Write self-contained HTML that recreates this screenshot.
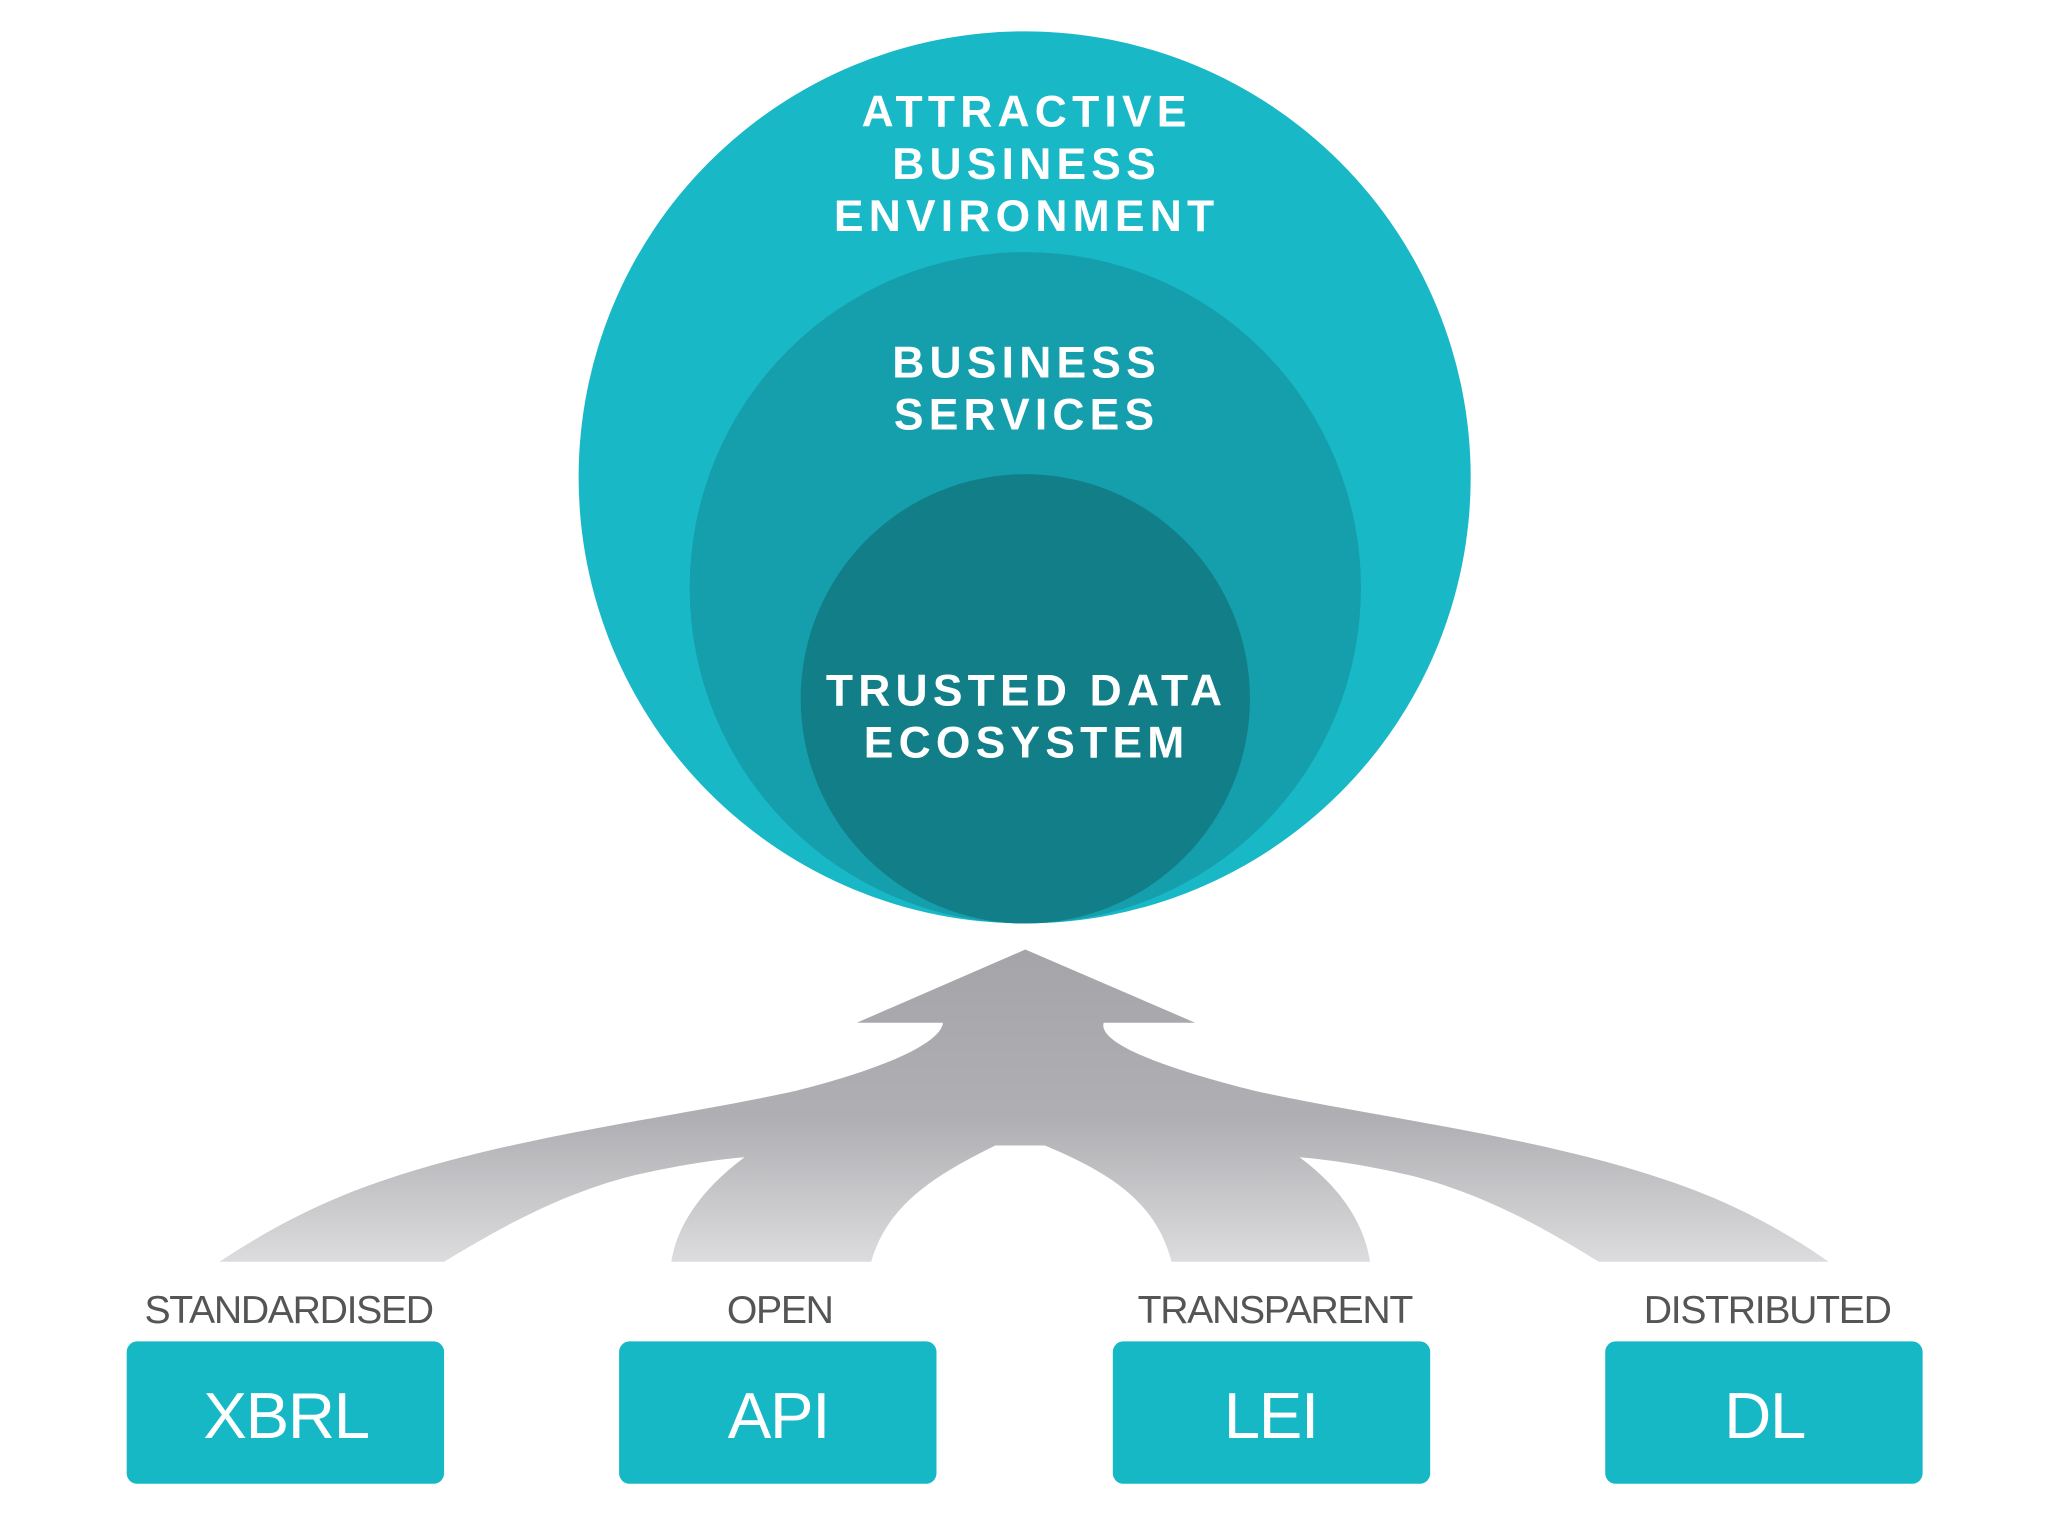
<!DOCTYPE html>
<html><head><meta charset="utf-8"><style>
html,body{margin:0;padding:0;background:#fff;}
svg{display:block;}
</style></head><body>
<svg width="2048" height="1536" viewBox="0 0 1568 1176" xmlns="http://www.w3.org/2000/svg">
<defs>
<linearGradient id="g" x1="0" y1="727" x2="0" y2="966" gradientUnits="userSpaceOnUse">
<stop offset="0" stop-color="#a5a4a8"/>
<stop offset="0.55" stop-color="#b0afb3"/>
<stop offset="1" stop-color="#dcdbdd"/>
</linearGradient>
</defs>
<rect width="1568" height="1176" fill="#fff"/>
<circle cx="784.5" cy="365.5" r="341.5" fill="#18b8c7"/>
<circle cx="785" cy="450" r="257" fill="#159fad"/>
<circle cx="785" cy="535" r="172" fill="#117e88"/>
<g font-family="Liberation Sans, sans-serif" font-weight="bold" font-size="34" fill="#fff" text-anchor="middle" letter-spacing="4">
<text x="786" y="97">ATTRACTIVE</text>
<text x="786" y="137">BUSINESS</text>
<text x="786" y="177">ENVIRONMENT</text>
<text x="786" y="289">BUSINESS</text>
<text x="786" y="329">SERVICES</text>
<text x="786" y="540">TRUSTED DATA</text>
<text x="786" y="580">ECOSYSTEM</text>
</g>
<path fill="url(#g)" d="M785,727 L915,783 L845,783 C840,800 900,820 960,835 C1050,855 1180,870 1280,905 C1330,922 1370,945 1400,966 L1224,966 C1190,945 1140,915 1080,900 C1050,893 1020,888 995,886 C1030,912 1045,940 1049,966 L897,966 C885,920 850,898 800,877 L762,877 C720,898 680,920 667,966 L514,966 C518,940 535,912 570,886 C545,888 515,893 485,900 C425,915 375,945 340,966 L168,966 C200,945 240,922 290,905 C390,870 520,855 610,835 C670,820 720,800 722,783 L656,783 Z"/>
<g fill="#17b8c6">
<rect x="97" y="1027" width="243" height="109" rx="8"/>
<rect x="474" y="1027" width="243" height="109" rx="8"/>
<rect x="852" y="1027" width="243" height="109" rx="8"/>
<rect x="1229" y="1027" width="243" height="109" rx="8"/>
</g>
<g font-family="Liberation Sans, sans-serif" font-size="30" fill="#555" text-anchor="middle" letter-spacing="-1">
<text x="221" y="1013">STANDARDISED</text>
<text x="597" y="1013">OPEN</text>
<text x="976" y="1013">TRANSPARENT</text>
<text x="1353" y="1013">DISTRIBUTED</text>
</g>
<g font-family="Liberation Sans, sans-serif" font-size="50" fill="#fff" text-anchor="middle" letter-spacing="-1">
<text x="219" y="1101">XBRL</text>
<text x="596" y="1101">API</text>
<text x="973" y="1101">LEI</text>
<text x="1351" y="1101">DL</text>
</g>
</svg>
</body></html>
